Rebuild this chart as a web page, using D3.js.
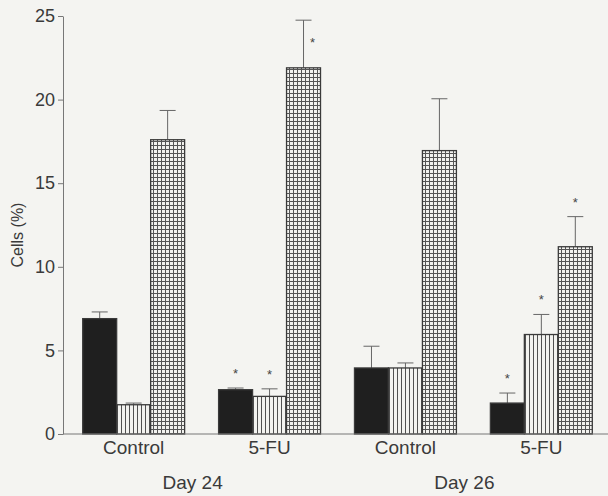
<!DOCTYPE html>
<html>
<head>
<meta charset="utf-8">
<script src="https://cdn.jsdelivr.net/npm/d3@7"></script>
<style>
  body { margin: 0; background: #f4f4f1; }
  svg { display: block; font-family: "Liberation Sans", Arial, sans-serif; }
</style>
</head>
<body>
<svg id="chart" width="608" height="496"></svg>
<script>
// groups along the x axis
const groups = ['Control', '5-FU', 'Control', '5-FU'];
const days = ['Day 24', 'Day 26'];
const groupDay = ['Day 24', 'Day 24', 'Day 26', 'Day 26'];

// three series per group (solid, vertical stripes, grid)
const seriesNames = ['solid', 'stripe', 'grid'];
const solidVals = [6.9, 2.65, 3.95, 1.85];
const stripeVals = [1.75, 2.25, 3.95, 5.95];
const gridVals = [17.6, 21.9, 16.95, 11.2];

const solidErr = [0.4, 0.1, 1.3, 0.6];
const stripeErr = [0.1, 0.45, 0.3, 1.2];
const gridErr = [1.75, 2.85, 3.1, 1.8];

// significance marks (*)
const solidSig = [false, true, false, true];
const stripeSig = [false, true, false, true];
const gridSig = [false, true, false, true];

const yTicks = [0, 5, 10, 15, 20, 25];

const svg = d3.select('#chart');

const plotLeft = 63;
const plotTop = 16;
const plotBottom = 434;
const plotRight = 612;

const yScale = d3.scaleLinear()
  .domain([0, 25])
  .range([plotBottom, plotTop]);

const xScale = d3.scaleBand()
  .domain(d3.range(groups.length))
  .range([plotLeft, plotRight])
  .paddingInner(0.25)
  .paddingOuter(0.145);

const xSub = d3.scaleBand()
  .domain(seriesNames)
  .range([0, xScale.bandwidth()]);

// patterns
const defs = svg.append('defs');
const stripe = defs.append('pattern')
  .attr('id', 'stripe')
  .attr('patternUnits', 'userSpaceOnUse')
  .attr('width', 4)
  .attr('height', 4);
stripe.append('rect').attr('width', 4).attr('height', 4).attr('fill', '#f2f2ef');
stripe.append('rect').attr('x', 1).attr('width', 1).attr('height', 4).attr('fill', '#505050');

const grid = defs.append('pattern')
  .attr('id', 'grid')
  .attr('patternUnits', 'userSpaceOnUse')
  .attr('width', 4)
  .attr('height', 4);
grid.append('rect').attr('width', 4).attr('height', 4).attr('fill', '#f2f2ef');
grid.append('rect').attr('x', 1).attr('width', 1).attr('height', 4).attr('fill', '#555');
grid.append('rect').attr('y', 1).attr('width', 4).attr('height', 1).attr('fill', '#555');

const fills = { solid: '#1f1f1f', stripe: 'url(#stripe)', grid: 'url(#grid)' };

// flatten into bar records
const bars = [];
groups.forEach((g, i) => {
  bars.push({ gi: i, s: 'solid', v: solidVals[i], e: solidErr[i], sig: solidSig[i] });
  bars.push({ gi: i, s: 'stripe', v: stripeVals[i], e: stripeErr[i], sig: stripeSig[i] });
  bars.push({ gi: i, s: 'grid', v: gridVals[i], e: gridErr[i], sig: gridSig[i] });
});

const bx = (d) => xScale(d.gi) + xSub(d.s);
const bc = (d) => bx(d) + xSub.bandwidth() / 2;

// error bars
const err = svg.append('g')
  .attr('stroke', '#666')
  .attr('stroke-width', 1);

err.selectAll('.ev')
  .data(bars)
  .enter()
  .append('line')
  .attr('x1', bc).attr('x2', bc)
  .attr('y1', (d) => yScale(d.v))
  .attr('y2', (d) => yScale(d.v + d.e));

err.selectAll('.ec')
  .data(bars)
  .enter()
  .append('line')
  .attr('x1', (d) => bc(d) - 8).attr('x2', (d) => bc(d) + 8)
  .attr('y1', (d) => yScale(d.v + d.e))
  .attr('y2', (d) => yScale(d.v + d.e));

// bars
svg.append('g')
  .selectAll('rect')
  .data(bars)
  .enter()
  .append('rect')
  .attr('x', bx)
  .attr('y', (d) => yScale(d.v))
  .attr('width', xSub.bandwidth())
  .attr('height', (d) => plotBottom - yScale(d.v))
  .attr('fill', (d) => fills[d.s])
  .attr('stroke', '#3a3a3a')
  .attr('stroke-width', 1.3);

// stars: above the whisker, or beside it when there is no room
svg.append('g')
  .selectAll('text')
  .data(bars.filter((d) => d.sig))
  .enter()
  .append('text')
  .attr('x', (d) => {
    const y = yScale(d.v + d.e) - 18;
    return y < plotTop + 10 ? bc(d) + 9 : bc(d);
  })
  .attr('y', (d) => {
    const y = yScale(d.v + d.e) - 18;
    return y < plotTop + 10 ? yScale(d.v + d.e) + 27 : y + 8;
  })
  .attr('text-anchor', 'middle')
  .attr('font-size', 13)
  .attr('fill', '#444')
  .text('*');

// axes
const yAxis = svg.append('g')
  .attr('transform', `translate(${plotLeft},0)`)
  .call(d3.axisLeft(yScale).tickValues(yTicks).tickSize(5).tickSizeOuter(0).tickPadding(3));
yAxis.select('.domain').attr('stroke', '#777');
yAxis.selectAll('.tick line').attr('stroke', '#777');
yAxis.selectAll('.tick text')
  .attr('font-size', 18)
  .attr('font-family', '"Liberation Sans", Arial, sans-serif')
  .attr('fill', '#3a3a3a');

svg.append('line')
  .attr('x1', plotLeft).attr('x2', 608)
  .attr('y1', plotBottom).attr('y2', plotBottom)
  .attr('stroke', '#777');

// group labels
svg.append('g')
  .selectAll('text')
  .data(groups)
  .enter()
  .append('text')
  .attr('x', (d, i) => xScale(i) + xScale.bandwidth() / 2)
  .attr('y', 454)
  .attr('text-anchor', 'middle')
  .attr('font-size', 19)
  .attr('fill', '#3a3a3a')
  .text((d) => d);

// day labels
svg.append('g')
  .selectAll('text')
  .data(days)
  .enter()
  .append('text')
  .attr('x', (d) => {
    const idx = d3.range(groups.length).filter((i) => groupDay[i] === d);
    const c = d3.mean(idx, (i) => xScale(i) + xScale.bandwidth() / 2);
    return c - 9;
  })
  .attr('y', 489)
  .attr('text-anchor', 'middle')
  .attr('font-size', 19)
  .attr('fill', '#3a3a3a')
  .text((d) => d);

// y label
svg.append('text')
  .attr('transform', 'translate(23,235) rotate(-90)')
  .attr('text-anchor', 'middle')
  .attr('font-size', 16)
  .attr('fill', '#3a3a3a')
  .text('Cells (%)');
</script>
</body>
</html>
